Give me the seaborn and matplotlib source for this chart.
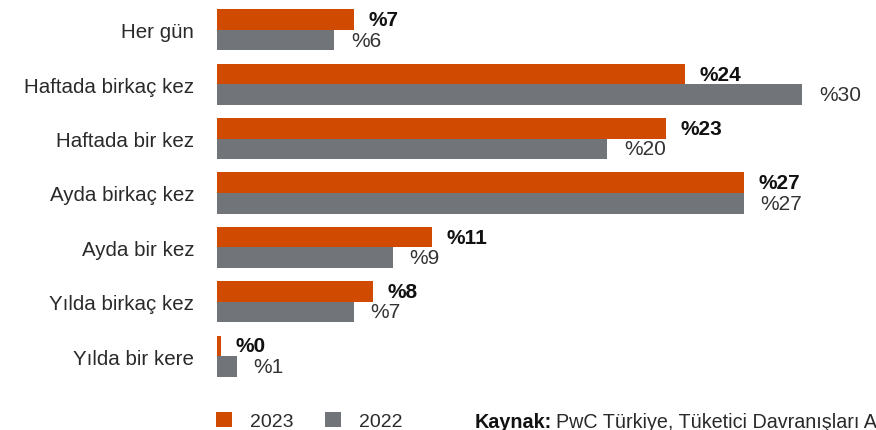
import matplotlib
matplotlib.use("Agg")
import matplotlib.pyplot as plt
import seaborn as sns
import pandas as pd
from matplotlib.patches import Patch

# Survey: how often consumers shop (share of respondents, %)
categories = ["Her gün", "Haftada birkaç kez", "Haftada bir kez", "Ayda birkaç kez",
              "Ayda bir kez", "Yılda birkaç kez", "Yılda bir kere"]
values_2023 = [7, 24, 23, 27, 11, 8, 0.2]
values_2022 = [6, 30, 20, 27, 9, 7, 1]
years = ["2023", "2022"]
colors = {"2023": "#D04A02", "2022": "#717579"}

df = pd.DataFrame({
    "Kategori": categories * 2,
    "Yıl": [years[0]] * len(categories) + [years[1]] * len(categories),
    "Oran": values_2023 + values_2022,
})

sns.set_theme(style="white")
plt.rcParams["font.family"] = ["Liberation Sans", "DejaVu Sans"]

W, H, DPI = 876, 431, 100
fig = plt.figure(figsize=(W / DPI, H / DPI), dpi=DPI)
ax_left, ax_right = 217, 876
ax_top, ax_bottom = 3.8, 384.2
ax = fig.add_axes([ax_left / W, 1 - ax_bottom / H, (ax_right - ax_left) / W, (ax_bottom - ax_top) / H])

sns.barplot(data=df, y="Kategori", x="Oran", hue="Yıl", hue_order=years,
            order=categories, palette=colors, orient="h", width=0.755,
            gap=0, saturation=1, linewidth=0, legend=False, ax=ax)

ax.set_xlim(0, (ax_right - ax_left) / 19.5)
ax.set_ylim(len(categories) - 0.5, -0.5)
ax.set_xlabel("")
ax.set_ylabel("")
ax.set_xticks([])
sns.despine(ax=ax, left=True, bottom=True)
ax.tick_params(axis="y", length=0, pad=16.5, labelsize=14.8, labelcolor="#2a2a2a")

# Value labels next to each bar
for container, year in zip(ax.containers, years):
    bold = year == "2023"
    for bar, v in zip(container, values_2023 if bold else values_2022):
        y = bar.get_y() + bar.get_height() / 2
        ax.annotate(f"%{v:.0f}", xy=(bar.get_width(), y),
                    xytext=(15 if bold else 17, 0), textcoords="offset pixels",
                    ha="left", va="center", fontsize=15,
                    fontweight="bold" if bold else "normal",
                    color="#111111" if bold else "#333333", annotation_clip=False)

# Legend squares
handles = [Patch(facecolor=colors[y], edgecolor="none", label=y) for y in years]
fig.legend(handles=handles, loc="lower left", bbox_to_anchor=(214 / W, -2 / H),
           ncol=2, frameon=False, fontsize=14, handlelength=0.85, handleheight=0.85,
           handletextpad=0.9, columnspacing=1.6, labelcolor="#2a2a2a",
           borderpad=0.1, borderaxespad=0)

# Source note
base_y = 1 - 428 / H
t1 = fig.text(475 / W, base_y, "Kaynak:", fontsize=14.2, fontweight="bold",
              color="#111111", va="baseline", ha="left")
fig.canvas.draw()
bb = t1.get_window_extent(renderer=fig.canvas.get_renderer())
fig.text((bb.x1 + 4) / W, base_y, "PwC Türkiye, Tüketici Davranışları Araştırması 2023",
         fontsize=14.2, color="#2a2a2a", va="baseline", ha="left")

fig.savefig("out.png", dpi=DPI, facecolor="white")
